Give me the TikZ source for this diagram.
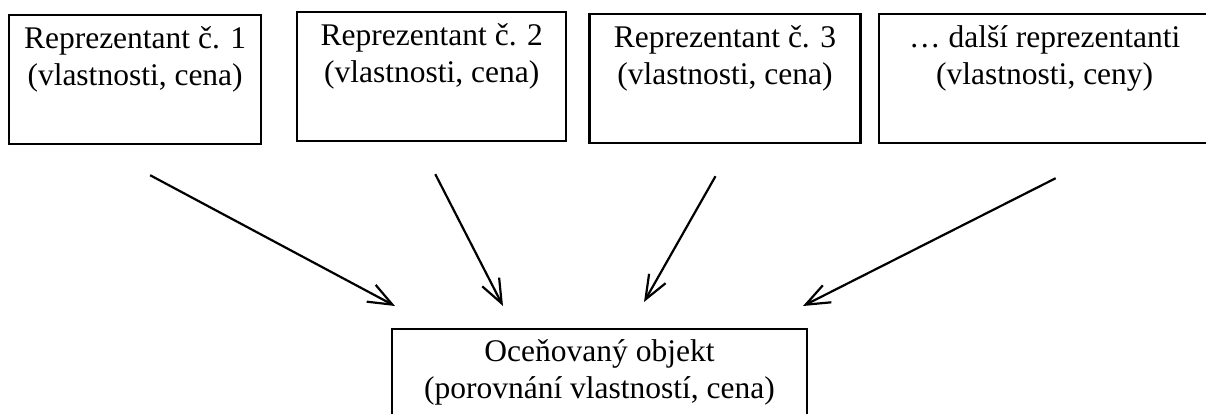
\documentclass[tikz,border=0pt]{standalone}
\usepackage{fontspec}
\setmainfont{Liberation Serif}
\usetikzlibrary{positioning,calc,arrows.meta}

\begin{document}
\begin{tikzpicture}[x=1pt,y=-1pt,node distance=34pt,>={Straight Barb[length=24pt,width=19pt]},
  every node/.style={draw,line width=2.2pt,align=center,inner ysep=0pt,
                     font=\fontsize{31.5}{37}\selectfont,text height=70pt,text depth=59pt}]
\useasboundingbox (0,0) rectangle (1206,413);
\node (rep1) [anchor=north west,minimum width=252pt] at (8,14) {Reprezentant č. 1\\(vlastnosti, cena)};
\node (rep2) [right=of rep1,minimum width=269pt,yshift=3pt] {Reprezentant č. 2\\(vlastnosti, cena)};
\node (rep3) [right=21pt of rep2,minimum width=271pt,yshift=-2pt] {Reprezentant č. 3\\(vlastnosti, cena)};
\node (repx) [right=16pt of rep3,minimum width=332pt] {… další reprezentanti\\(vlastnosti, ceny)};
\node (obj)  [anchor=north,minimum width=415pt,text height=69pt,text depth=33pt] at (599.5,328)
             {Oceňovaný objekt\\(porovnání vlastností, cena)};

\draw[->,line width=2.2pt] ($(rep1.south)+(15,30)$) -- ($(obj.north)+(-204.5,-22)$);
\draw[->,line width=2.2pt] ($(rep2.south)+(3.5,32)$) -- ($(obj.north)+(-96.5,-22)$);
\draw[->,line width=2.2pt] ($(rep3.south)+(-9.5,32)$) -- ($(obj.north)+(44.5,-26)$);
\draw[->,line width=2.2pt] ($(repx.south)+(11,34)$) -- ($(obj.north)+(203.5,-22)$);
\end{tikzpicture}
\end{document}
